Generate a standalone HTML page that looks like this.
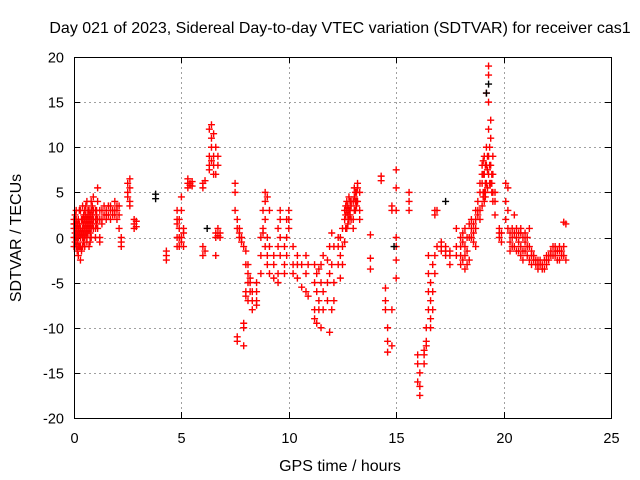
<!DOCTYPE html>
<html><head><meta charset="utf-8"><style>
html,body{margin:0;padding:0;background:#fff;}
svg{display:block;font-family:"Liberation Sans",sans-serif;}
</style></head><body>
<svg id="chart" width="640" height="480" viewBox="0 0 640 480" xmlns="http://www.w3.org/2000/svg">
<rect width="640" height="480" fill="#fff"/>
<text x="340" y="33" font-size="16" text-anchor="middle" fill="#000">Day 021 of 2023, Sidereal Day-to-day VTEC variation (SDTVAR) for receiver cas1</text>
<text x="340" y="471" font-size="16" text-anchor="middle" fill="#000">GPS time / hours</text>
<text x="21" y="238" font-size="16" text-anchor="middle" fill="#000" transform="rotate(-90 21 238)">SDTVAR / TECUs</text>
<g id="grid"></g>
<g id="ticks"></g>
<g id="marks"></g>
<rect x="74.5" y="57.5" width="537" height="361" fill="none" stroke="#000" stroke-width="1"/>
</svg>
<script>
const xTicks = [0,5,10,15,20,25];
const yTicks = [-20,-15,-10,-5,0,5,10,15,20];
const sampleTimes = [0.0,0.1,0.2,0.3,0.4,0.5,0.6,0.7,0.8,0.9,1.0,1.1,1.2,1.3,1.5,1.7,1.9,2.0,2.1,2.2,2.5,2.6,2.8,2.9,4.3,4.8,4.9,5.0,5.1,5.3,5.4,5.5,6.0,6.1,6.3,6.4,6.5,6.6,6.7,6.8,7.5,7.6,7.7,7.8,7.9,8.0,8.1,8.2,8.3,8.5,8.7,8.8,8.9,9.0,9.1,9.3,9.5,9.6,9.8,9.9,10.0,10.2,10.4,10.6,10.8,10.9,11.2,11.3,11.4,11.5,11.6,11.8,11.9,12.0,12.1,12.3,12.4,12.5,12.6,12.7,12.8,12.9,13.0,13.1,13.2,13.3,13.8,14.3,14.5,14.6,14.8,15.0,15.6,16.0,16.1,16.3,16.4,16.5,16.6,16.7,16.8,16.9,17.1,17.3,17.5,17.8,18.0,18.2,18.4,18.5,18.7,18.8,18.9,19.0,19.1,19.2,19.3,19.4,19.5,19.6,19.8,19.9,20.1,20.2,20.4,20.5,20.6,20.8,21.0,21.2,21.4,21.6,21.8,22.0,22.2,22.4,22.6,22.8,22.9,
0.05,0.15,0.25,0.35,0.45,0.55,0.65,0.75,0.85,1.05,1.4,1.6,1.8,12.65,12.75,12.85,13.05,13.15,18.1,18.3,18.6,19.05,19.15,19.25,19.35,19.45,20.3,20.7,20.9,21.1,21.3,21.5,21.7,21.9,22.1,22.3,22.5,22.7];
const sampleValues = [[0,1,-1,2,1.5],[-1,1,3,0,2],[0,-2,2,1,-1],[1,-1,3,0,-2.5],[2,0,-1,1,3.5],[1,3,-1,0,2],[2,0,4,1,-0.5],[1,3,-1,2],[2,4,0,3,1],[1,3,2,4.5],[3,0,2,1],[4,2,1,5.5],[2,3,0,-0.5],[2,3,1.5],[3,2,2.5],[3,2,3.5],[3,4,2.5],[3,3.5,2],[3.5,2.5,1],[-0.5,0,-1],[5,6,4.5],[6.5,5.5,4,3.5],[1.5,1,2],[1.2,1.8],[-2,-2.5,-1.5],[2,0,-1,1.5,3],[0,-1,1,2],[3,4.5,0,-0.5],[-1,1,0.5],[6,6.5,5.5],[6,5.8],[6.2,5.7],[5.5,6,-1,-2],[6.3,-1.5],[8,9,7.5,12],[12.5,11,10,8.5],[9,7,8,11.5],[10,7,0,0.5,-2],[9,8,1,0.2],[0.5,0],[6,5,3],[2,1,-11.5,-11],[0.5,0,1],[0,-0.5],[-1,-10,-12,-9.5],[-1.5,-3,-6,-6.5],[-3,-5,-7,-4],[-5,-6,-4.5],[-7,-8,-6],[-6,-7,-7.5,-5],[-4,0,-2],[1,3,0.5],[5,4,2,-1],[4.5,0,-2,-3],[3,-1,-4],[-3,-2,-4.5],[-5,-4,-1,1],[2,3,0,-2],[-3,-4,-1],[-2,0,2],[3,2,1],[-4,-1,-3],[-2,-4.5,-3],[-5.5,-3],[-2,-4,-6],[-3,-6.5],[-9,-8,-5,-3],[-4,-9.5,-6],[-7,-3.5,-8],[-3,-5,-10],[-8,-2,-6],[-7,-5,-2.5],[-10.5,-4,-1],[-8,-3,0.5],[-5,-7,-1],[-3,-1,0],[0,-2,-4.5],[-3,-1,1],[2,3,-0.5],[4,3,1],[4.5,3,2],[4,3.5,2],[4,2,1],[5,3,4],[6,5.5,4],[5,3,2],[0.3,-2.3,-3.5],[6.8,6.3],[-5.6,-7,-8],[-10,-11.5,-12.7],[3.5,3,-8,-12],[7.5,5.5,3,0,-1,-2.5,-4.5],[5,4,3],[-13,-14,-16],[-17.5,-15,-16.5],[-12.5,-13,-14],[-10,-11.5,-12],[-2,-4,-6,-8],[-5,-7,-10,-9],[-3,-6,-8],[-2,2.5,3,-4],[3,-1],[-0.5,-1,-1.5],[-1.5,-2,-1],[-2,-3,-1.5],[-1,1,-2],[0,-2,-3,-1],[1,-1,-3.5,-2],[-2.5,1.5,0],[1,2,0],[2,3,1,-1],[3,2.5,4],[3,5,6,2],[6,8,7,3.5],[9,7,5,4],[10,8,6,16],[19,18,15,12,9,7],[13,11,8,6],[9,7,5,4],[5,4,2.5],[1,0,0.5],[0.5,-0.5],[6,4,2],[5.5,3,1],[0,-1,1],[-1,0.5,2.5],[1,0,-1.5],[0.5,-1,-2,1],[-0.5,-1.5,0.5],[1,-1,-2.5],[-2,-2.5],[-2.5,-3,-3.5],[-3,-3.5],[-2.5,-2,-3],[-2,-1.5],[-1.5,-1,-2],[-1,-1.5,-2.5],[-1,-2,1.7],[1.5,-2.5],
[0.5,-0.5,1.5,2.5],[0.5,-1.5,1.5,-0.5],[0.5,-1,1.5,3],[0.5,-1.5,2],[1.5,0.5,-0.5,2.5],[1.5,0.5,2.5,3.5],[1.5,0.5,3,2.5],[1.5,0.5,2.5,-0.5],[1.5,2.5,3.5],[1.5,2.5,3],[2.5,3.5],[2.5,3.5],[2.5,3],[2.5,3.5,1],[3.5,2.5,1.5],[3,4,2.5],[3,4.5,5.5],[4,5,3.5],[-0.5,-2.5,0.5],[0,-1.5,-3],[1.5,0.5,-0.5],[7,8.5,5,4.5],[8,6,5,4.5],[9,7.5,5.5],[10,8,6],[7,6,5],[0.5,-0.5,-1.5],[-0.5,0.5,-1.5],[-1.5,0,-2.5],[-1,-2,0],[-2,-1.5,-3],[-2.5,-3],[-3,-2.5],[-2.5,-3.5],[-2,-2.5],[-2,-1],[-1.5,-2.5],[-1.5,-2]];
const blackTimes = [3.8,3.8,14.9,19.3,19.2,17.3,6.2];
const blackValues = [4.8,4.3,-1,17,16,4,1];

const NS="http://www.w3.org/2000/svg";
const X0=74,X1=611,Y0=418,Y1=57;
function xs(t){return X0+(t-0)/(25-0)*(X1-X0);}
function ys(v){return Y0-(v+20)/40*(Y0-Y1);}
function mk(tag,attrs,parent){const e=document.createElementNS(NS,tag);for(const k in attrs)e.setAttribute(k,attrs[k]);parent.appendChild(e);return e;}
const grid=document.getElementById('grid'),ticks=document.getElementById('ticks'),marks=document.getElementById('marks');
xTicks.forEach(t=>{
  const x=Math.round(xs(t))+0.5;
  if(t>0&&t<25){const g=mk('line',{x1:x,x2:x,y1:Y1,y2:Y0,stroke:'#a0a0a0','stroke-dasharray':'2,3'},grid);
  
  }
  const a=mk('path',{d:`M${x},${Y0}v-6M${x},${Y1}v6`,stroke:'#000'},ticks);
  
  
  const l=mk('text',{x:x,y:443,'font-size':'14.5','text-anchor':'middle'},ticks);l.textContent=t;
  
  
});
yTicks.forEach(v=>{
  const y=Math.round(ys(v))+0.5;
  if(v>-20&&v<20){const g=mk('line',{x1:X0,x2:X1,y1:y,y2:y,stroke:'#a0a0a0','stroke-dasharray':'2,3'},grid);
  
  }
  const a=mk('path',{d:`M${X0},${y}h6M${X1},${y}h-6`,stroke:'#000'},ticks);
  
  
  const l=mk('text',{x:64,y:y+5,'font-size':'14.5','text-anchor':'end'},ticks);l.textContent=v;
  
  
});
function plus(t,v,color){
  const x=xs(t),y=ys(v);
  const p=mk('path',{d:`M${x-3.5},${y}h7M${x},${y-3.5}v7`,stroke:color,'stroke-width':'1.4',fill:'none'},marks);
  
  
}
sampleTimes.forEach((t,i)=>sampleValues[i].forEach(v=>plus(t,v,'#ff0000')));
blackTimes.forEach((t,i)=>plus(t,blackValues[i],'#000'));
</script>
</body></html>
